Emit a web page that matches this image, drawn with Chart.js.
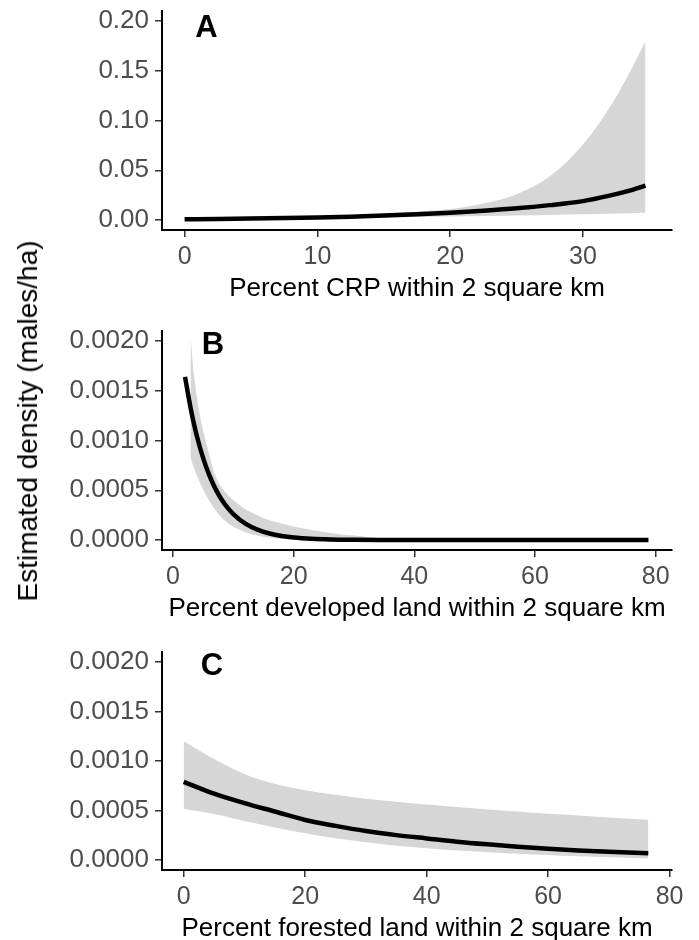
<!DOCTYPE html>
<html><head><meta charset="utf-8">
<script src="https://cdn.jsdelivr.net/npm/chart.js@4.4.1/dist/chart.umd.min.js"></script>
<style>
html,body{margin:0;padding:0;background:#fff;overflow:hidden;width:699px;height:940px;position:relative;}
canvas{position:absolute;left:0;}
#ytitle{position:absolute;left:28px;top:421px;transform:translate(-50%,-50%) rotate(-90deg);font:28px "Liberation Sans",Arial,sans-serif;color:#000;white-space:nowrap;}
</style></head><body>
<canvas id="cA" width="699" height="320" style="top:0"></canvas>
<canvas id="cB" width="699" height="320" style="top:320px"></canvas>
<canvas id="cC" width="699" height="320" style="top:640px"></canvas>
<div id="ytitle">Estimated density (males/ha)</div>
<script>
// ---------- Panel A: Percent CRP ----------
const crpX     = [0, 2.5, 5, 7.5, 10, 12.5, 15, 17.5, 20, 22.5, 25, 27.5, 30, 32, 33.5, 34.7];
const crpFit   = [0.0008, 0.0011, 0.0015, 0.0020, 0.0026, 0.0034, 0.0045, 0.0058, 0.0074, 0.0094, 0.0118, 0.0150, 0.0190, 0.0245, 0.0295, 0.0345];
const crpUpper = [0.0012, 0.0015, 0.0020, 0.0026, 0.0035, 0.0047, 0.0062, 0.0083, 0.0110, 0.0165, 0.0260, 0.0440, 0.0760, 0.1130, 0.1480, 0.1795];
const crpLower = [0.0004, 0.0006, 0.0009, 0.0012, 0.0016, 0.0021, 0.0026, 0.0031, 0.0036, 0.0041, 0.0046, 0.0051, 0.0057, 0.0063, 0.0068, 0.0074];
const crpXTicks = [0, 10, 20, 30];
const crpYTicks = [0, 0.05, 0.10, 0.15, 0.20];

// ---------- Panel B: Percent developed ----------
const devX   = [2, 2.9, 3.5, 4, 5, 6, 7, 8, 9, 10, 12, 14, 16, 18, 20, 23, 26, 30, 35, 40, 50, 60, 70, 78.8];
const devFit = [0.00164, 0.001333, 0.001161, 0.001035, 0.000823, 0.000654, 0.000519, 0.000413, 0.000328, 0.000261, 0.000164, 0.000104, 0.0000656, 0.0000414, 0.0000261, 0.0000131, 0.0000066, 0.0000026, 0.0000008, 0.0000003, 0, 0, 0, 0];
const devRibX  = [2.9, 3.5, 4, 5, 6, 7, 8, 9, 10, 12, 14, 16, 18, 20, 23, 26, 30, 35, 40, 50, 60, 70, 78.8];
const devUpper = [0.00205, 0.00165, 0.00142, 0.00110, 0.00086, 0.00065, 0.00053, 0.00046, 0.00040, 0.00031, 0.00025, 0.00020, 0.000165, 0.000135, 0.000100, 0.000072, 0.000045, 0.000015, 0.000008, 0.000003, 0.000001, 0, 0];
const devLower = [0.00083, 0.00072, 0.00064, 0.000505, 0.000395, 0.000305, 0.000230, 0.000175, 0.000134, 0.000078, 0.000044, 0.000025, 0.000014, 0.000008, 0.000003, 0.000001, 0, 0, 0, 0, 0, 0, 0];
const devXTicks = [0, 20, 40, 60, 80];
const devYTicks = [0, 0.0005, 0.0010, 0.0015, 0.0020];

// ---------- Panel C: Percent forested ----------
const forX     = [0, 5, 10, 15, 20, 25, 30, 35, 40, 45, 50, 55, 60, 65, 70, 76.5];
const forFit   = [0.00079, 0.00067, 0.000575, 0.00049, 0.000405, 0.000345, 0.000293, 0.000252, 0.000219, 0.000186, 0.000159, 0.000135, 0.000115, 0.000098, 0.0000835, 0.0000685];
const forUpper = [0.00120, 0.00102, 0.00087, 0.00077, 0.000705, 0.00066, 0.00062, 0.00059, 0.00056, 0.000535, 0.00051, 0.00049, 0.000467, 0.00045, 0.00043, 0.000407];
const forLower = [0.000515, 0.000465, 0.000395, 0.000330, 0.000271, 0.000220, 0.000180, 0.000145, 0.000119, 0.000096, 0.000080, 0.000064, 0.000051, 0.000038, 0.000028, 0.000017];
const forXTicks = [0, 20, 40, 60, 80];
const forYTicks = [0, 0.0005, 0.0010, 0.0015, 0.0020];

const FONT = '"Liberation Sans", Arial, Helvetica, sans-serif';
const RIBBON = '#d6d6d6';

const panelLabel = {
  id: 'panelLabel',
  afterDraw(chart, args, opts) {
    const {ctx, chartArea} = chart;
    ctx.save();
    ctx.font = 'bold 31px ' + FONT;
    ctx.fillStyle = '#000';
    ctx.textAlign = 'center';
    ctx.textBaseline = 'middle';
    ctx.fillText(opts.text, chartArea.left + opts.dx, chartArea.top + opts.dy);
    ctx.restore();
  }
};

function pts(xs, ys) { return xs.map((x, i) => ({x: x, y: ys[i]})); }

function makePanel(id, cfg) {
  const grid = {display: true, drawOnChartArea: false, drawTicks: true, tickLength: 7, color: '#333333', lineWidth: 1.5};
  const border = {display: true, color: '#000000', width: 2};
  new Chart(document.getElementById(id), {
    type: 'line',
    data: {
      datasets: [
        {data: pts(cfg.x, cfg.fit), borderColor: '#000', borderWidth: 4.5, pointRadius: 0, fill: false, cubicInterpolationMode: 'monotone', borderCapStyle: 'butt'},
        {data: pts(cfg.rx, cfg.upper), borderWidth: 0, borderColor: 'rgba(0,0,0,0)', pointRadius: 0, backgroundColor: RIBBON, fill: '+1', cubicInterpolationMode: 'monotone'},
        {data: pts(cfg.rx, cfg.lower), borderWidth: 0, borderColor: 'rgba(0,0,0,0)', pointRadius: 0, fill: false, cubicInterpolationMode: 'monotone'}
      ]
    },
    options: {
      responsive: false,
      animation: false,
      events: [],
      layout: {padding: {top: cfg.padTop, right: 27, left: 0, bottom: 0}},
      plugins: {legend: {display: false}, tooltip: {enabled: false}, panelLabel: cfg.label},
      scales: {
        x: {
          type: 'linear', min: cfg.xmin, max: cfg.xmax,
          afterBuildTicks: s => { s.ticks = cfg.xticks.map(v => ({value: v})); },
          afterFit: s => { s.height = 90; s.paddingLeft = 0; s.paddingRight = 0; },
          ticks: {color: '#4d4d4d', font: {family: FONT, size: 25}, padding: 5, maxRotation: 0, autoSkip: false, callback: v => String(v)},
          title: {display: true, text: cfg.xtitle, color: '#000', font: {family: FONT, size: 26}, padding: {top: 0, bottom: 15.5}},
          grid: grid, border: border
        },
        y: {
          type: 'linear', min: cfg.ymin, max: cfg.ymax,
          afterBuildTicks: s => { s.ticks = cfg.yticks.map(v => ({value: v})); },
          afterFit: s => { s.width = 162; s.paddingTop = 0; s.paddingBottom = 0; },
          ticks: {color: '#4d4d4d', font: {family: FONT, size: 26}, padding: 6, callback: v => Number(v).toFixed(cfg.dec)},
          grid: grid, border: border
        }
      }
    },
    plugins: [panelLabel]
  });
}

makePanel('cA', {x: crpX, fit: crpFit, rx: crpX, upper: crpUpper, lower: crpLower,
  xticks: crpXTicks, yticks: crpYTicks, xmin: -1.7, xmax: 36.7, ymin: -0.01, ymax: 0.21, dec: 2, padTop: 11,
  xtitle: 'Percent CRP within 2 square km', label: {text: 'A', dx: 44.5, dy: 17}});
makePanel('cB', {x: devX, fit: devFit, rx: devRibX, upper: devUpper, lower: devLower,
  xticks: devXTicks, yticks: devYTicks, xmin: -1.82, xmax: 82.7, ymin: -0.0001, ymax: 0.0021, dec: 4, padTop: 11,
  xtitle: 'Percent developed land within 2 square km', label: {text: 'B', dx: 51, dy: 14}});
makePanel('cC', {x: forX, fit: forFit, rx: forX, upper: forUpper, lower: forLower,
  xticks: forXTicks, yticks: forYTicks, xmin: -3.57, xmax: 80.4, ymin: -0.0001, ymax: 0.0021, dec: 4, padTop: 12,
  xtitle: 'Percent forested land within 2 square km', label: {text: 'C', dx: 50, dy: 14}});
</script>
</body></html>
